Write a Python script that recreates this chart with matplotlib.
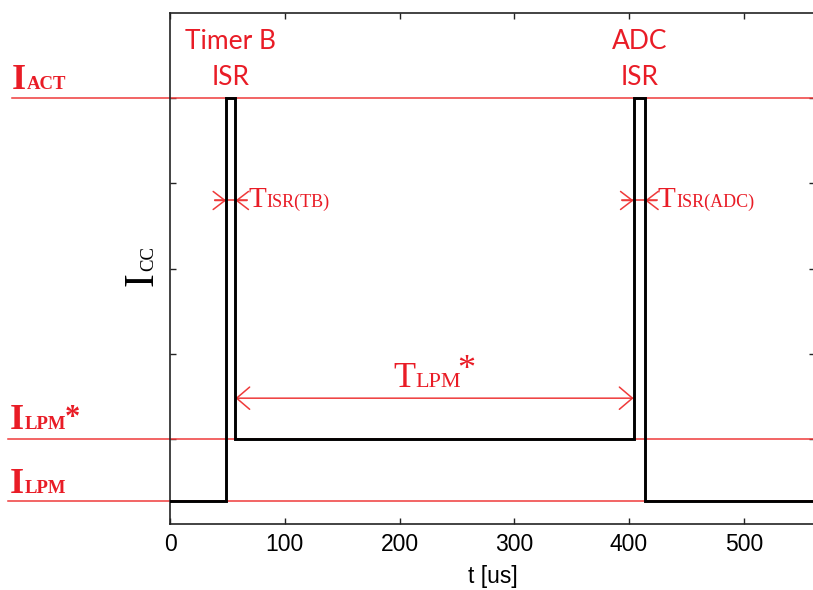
import matplotlib
matplotlib.use("Agg")
import matplotlib.pyplot as plt
import matplotlib.transforms as mtransforms

plt.rcParams["font.family"] = ["Liberation Sans", "DejaVu Sans"]

# Supply-current levels (arbitrary units on a 0-6 scale)
I_ACT = 5.0
I_LPM_STAR = 1.0
I_LPM = 0.27

# Waveform breakpoints (us) and the level held from each breakpoint on
t_edges = [0, 49, 57, 404, 414, 562]
i_levels = [I_LPM, I_ACT, I_LPM_STAR, I_ACT, I_LPM, I_LPM]

# Interrupt service routines: start / end times and names
isr_start = [49, 404]
isr_end = [57, 414]
isr_title = ["Timer B", "ADC"]
isr_tag = ["ISR(TB)", "ISR(ADC)"]

x_ticks = [0, 100, 200, 300, 400, 500]
x_tick_labels = ["0", "100", "200", "300", "400", "500"]
y_ticks = [1, 2, 3, 4, 5]

RED_TEXT = "#e91c26"
RED_LINE = "#ef3a3a"
SERIF = "Liberation Serif"

W, H = 813, 590
fig = plt.figure(figsize=(W / 100, H / 100), dpi=100)
ax = fig.add_axes([170 / W, 65.7 / H, 644.9 / W, 511.3 / H])
ax.set_xlim(0, 562)
ax.set_ylim(0, 6)
renderer = fig.canvas.get_renderer()


def run_label(x, y, parts, transform, color, rotation=0, dy=0.0):
    """Draw text runs side by side on one baseline (small-caps style).

    Each part is (text, size, weight, rise_px, kern_px)."""
    adv = 0.0
    for txt, size, weight, rise, kern in parts:
        adv += kern
        if rotation == 0:
            tr = mtransforms.offset_copy(transform, x=adv, y=dy + rise, units="dots")
        else:
            tr = mtransforms.offset_copy(transform, x=-(dy + rise), y=adv, units="dots")
        t = fig.text(x, y, txt, transform=tr, fontsize=size, fontweight=weight,
                     color=color, family=SERIF, ha="left", va="baseline",
                     rotation=rotation, rotation_mode="anchor", zorder=5)
        ext = t.get_window_extent(renderer)
        adv += (ext.width if rotation == 0 else ext.height) + 0.8


# Current levels as red reference lines running across the whole figure
level_tr = mtransforms.blended_transform_factory(fig.transFigure, ax.transData)
for lvl, x0 in [(I_ACT, 12), (I_LPM_STAR, 8), (I_LPM, 8)]:
    ax.plot([x0 / W, 1.0], [lvl, lvl], transform=level_tr, color=RED_LINE,
            lw=1.1, clip_on=False, zorder=2)

# Level names at the left margin
run_label(12 / W, I_ACT, [("I", 26, "bold", 0, 0), ("ACT", 13.5, "bold", 0, 0)],
          level_tr, RED_TEXT, dy=9.5)
run_label(10 / W, I_LPM_STAR, [("I", 26, "bold", 0, 0), ("LPM", 13.5, "bold", 0, 0),
                               ("*", 22, "bold", 3, -2)],
          level_tr, RED_TEXT, dy=10.5)
run_label(10 / W, I_LPM, [("I", 26, "bold", 0, 0), ("LPM", 13.5, "bold", 0, 0)],
          level_tr, RED_TEXT, dy=8)

# Supply current waveform
ax.plot(t_edges, i_levels, drawstyle="steps-post", color="black", lw=2.1,
        solid_joinstyle="miter", zorder=4)

# ISR names above each pulse
for s, e, name in zip(isr_start, isr_end, isr_title):
    xc = (s + e) / 2
    ax.text(xc, 5.58, name, ha="center", va="baseline", fontsize=19,
            family="Lato", color=RED_TEXT, clip_on=False)
    ax.text(xc, 5.15, "ISR", ha="center", va="baseline", fontsize=19,
            family="Lato", color=RED_TEXT, clip_on=False)

# ISR durations: inward-pointing arrows on both edges of each pulse
y_isr = 3.8
stub = 10
for s, e, tag in zip(isr_start, isr_end, isr_tag):
    ax.plot([s - stub, e + stub], [y_isr, y_isr], color=RED_LINE, lw=1.1, zorder=3)
    for tail, tip in [(s - stub, s), (e + stub, e)]:
        ax.annotate("", xy=(tip, y_isr), xytext=(tail, y_isr),
                    arrowprops=dict(arrowstyle="->,head_length=8.5,head_width=6.5",
                                    mutation_scale=1, color=RED_LINE, lw=1.1,
                                    shrinkA=0, shrinkB=0), zorder=3)
    run_label(e + 11, 3.72, [("T", 21, "normal", 0, 0), (tag, 13, "normal", 0, 0)],
              ax.transData, RED_TEXT)

# Low-power-mode duration between the two ISRs
y_lpm = 1.48
ax.annotate("", xy=(isr_end[0], y_lpm), xytext=(isr_start[1], y_lpm),
            arrowprops=dict(arrowstyle="<->,head_length=9.4,head_width=8",
                            mutation_scale=1, color=RED_LINE, lw=1.1,
                            shrinkA=0, shrinkB=0), zorder=3)
run_label(194.3, 1.61, [("T", 26, "normal", 0, 0), ("LPM", 16, "normal", 0, 0),
                        ("*", 26, "normal", 8, -5)],
          ax.transData, RED_TEXT)

# Axes styling
for sp in ax.spines.values():
    sp.set_linewidth(1.2)
    sp.set_color("#222222")
ax.set_xticks(x_ticks, x_tick_labels)
ax.set_yticks(y_ticks)
ax.tick_params(direction="in", length=4.3, width=1.0, top=True, right=True,
               labelleft=False, labelsize=16.5, pad=6, colors="#222222",
               labelcolor="black")
ax.set_xlabel("t [us]", fontsize=16.5, labelpad=7)

# Y-axis label "Icc" in small-caps style, rotated
run_label(153, H - 286, [("I", 30, "normal", 0, 0), ("CC", 13.5, "normal", 0, 0)],
          mtransforms.IdentityTransform(), "black", rotation=90)

fig.savefig("out.png", dpi=100)
